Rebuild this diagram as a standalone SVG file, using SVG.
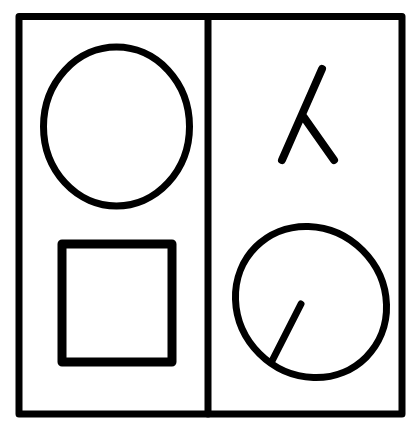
<svg xmlns="http://www.w3.org/2000/svg" width="414" height="433" viewBox="0 0 414 433">
  <style>
    .ln { fill: none; stroke: #000; stroke-width: 7; stroke-linecap: round; stroke-linejoin: round; }
  </style>
  <rect width="414" height="433" fill="#fff"/>
  <g id="frame">
    <rect class="ln" x="19" y="16.5" width="383" height="397.5" stroke-linejoin="miter" stroke-linecap="butt"/>
    <line class="ln" x1="208" y1="16.5" x2="208" y2="414" stroke-linecap="butt"/>
  </g>
  <g id="left-circle">
    <ellipse class="ln" cx="116.5" cy="126.5" rx="73" ry="79.5"/>
  </g>
  <g id="left-square">
    <rect class="ln" x="62" y="244" width="110" height="118" style="stroke-width:9" stroke-linejoin="miter"/>
  </g>
  <g id="lambda">
    <path class="ln" d="M322,69 L282,160 M303,116 L334,160" style="stroke-width:8"/>
  </g>
  <g id="dial">
    <ellipse class="ln" cx="311" cy="302" rx="78" ry="73" transform="rotate(45 311 302)"/>
    <line class="ln" x1="301" y1="304" x2="272" y2="361"/>
  </g>
</svg>
